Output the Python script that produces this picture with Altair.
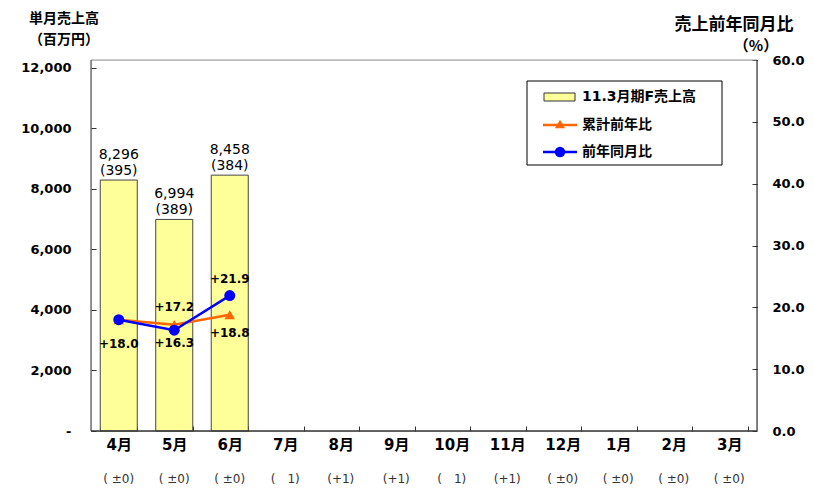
import altair as alt
import pandas as pd

# ---- data ----
months = ["4月", "5月", "6月", "7月", "8月", "9月", "10月", "11月", "12月", "1月", "2月", "3月"]
sales = [8296, 6994, 8458]
store_counts = [395, 389, 384]
cum_yoy = [18.0, 17.2, 18.8]
mon_yoy = [18.0, 16.3, 21.9]
store_change = ["( ±0)", "( ±0)", "( ±0)", "(　1)", "(+1)", "(+1)", "(　1)", "(+1)",
                "( ±0)", "( ±0)", "( ±0)", "( ±0)"]
legend_labels = ["11.3月期F売上高", "累計前年比", "前年同月比"]
left_ticks = [0, 2000, 4000, 6000, 8000, 10000, 12000]
right_ticks = [0, 10, 20, 30, 40, 50, 60]
left_title = ["単月売上高", "（百万円）"]
right_title = ["売上前年同月比", "（%）"]

W, H = 666, 371
FONT = "DejaVu Sans, Noto Sans CJK JP, sans-serif"
JFONT = "Noto Sans CJK JP, DejaVu Sans, sans-serif"
ORANGE = "#FF6600"
BLUE = "#0000FF"
YELLOW = "#FFFF99"

n = len(sales)
df_bar = pd.DataFrame({
    "month": months[:n],
    "sales": sales,
    "label": [f"{s:,}\n({c})" for s, c in zip(sales, store_counts)],
})
df_line = pd.DataFrame({
    "month": months[:n] * 2,
    "series": ["cum"] * n + ["mon"] * n,
    "value": cum_yoy + mon_yoy,
})
df_line["label"] = df_line["value"].map(lambda v: f"+{v:.1f}")
df_sub = pd.DataFrame({"month": months, "sub": store_change})
one = pd.DataFrame({"k": [0]})

xscale = alt.Scale(domain=months, paddingInner=0.333, paddingOuter=0.1667)
xaxis = alt.Axis(title=None, labelFont=FONT, labelFontSize=15, labelFontWeight="bold",
                 labelColor="black", domain=False, ticks=True, tickSize=5, tickColor="#333",
                 tickBand="extent", offset=-5, labelPadding=6, labelAngle=0, grid=False)


def xenc():
    return alt.X("month:N", scale=xscale, axis=xaxis, sort=months)


yleft = alt.Y("sales:Q", scale=alt.Scale(domain=[0, 12264], nice=False, zero=True),
              axis=alt.Axis(orient="left", values=left_ticks, title=None, domain=False,
                            tickSize=5, tickColor="#333", offset=-5, labelPadding=20,
                            labelFont=FONT, labelFontSize=13, labelFontWeight="bold",
                            labelColor="black", grid=False,
                            labelExpr="datum.value == 0 ? '-' : format(datum.value, ',')"))
yright = alt.Y("value:Q", scale=alt.Scale(domain=[0, 60], nice=False, zero=True),
               axis=alt.Axis(orient="right", values=right_ticks, title=None, domain=False,
                             tickSize=5, tickColor="#333", offset=-5, labelPadding=15,
                             format=".1f", labelFont=FONT, labelFontSize=13,
                             labelFontWeight="bold", labelColor="black", grid=False))

bars = alt.Chart(df_bar).mark_bar(color=YELLOW, stroke="#444", strokeWidth=1).encode(
    x=xenc(), y=yleft)
bar_labels = alt.Chart(df_bar).mark_text(
    font=FONT, fontSize=14, color="black", baseline="bottom", dy=-18,
    lineBreak="\n", lineHeight=16).encode(x=xenc(), y=yleft, text="label:N")
left_group = alt.layer(bars, bar_labels)

cum = df_line[df_line.series == "cum"]
mon = df_line[df_line.series == "mon"]
cum_line = alt.Chart(cum).mark_line(color=ORANGE, strokeWidth=2.5).encode(x=xenc(), y=yright)
cum_pts = alt.Chart(cum).mark_point(shape="triangle-up", filled=True, size=110, color=ORANGE,
                                    opacity=1).encode(x=xenc(), y=yright)
mon_line = alt.Chart(mon).mark_line(color=BLUE, strokeWidth=2.5).encode(x=xenc(), y=yright)
mon_pts = alt.Chart(mon).mark_circle(size=120, color=BLUE, opacity=1).encode(x=xenc(), y=yright)


def vlabel(src, mlist, dy):
    return alt.Chart(src).transform_filter(
        alt.FieldOneOfPredicate(field="month", oneOf=mlist)).mark_text(
        font=FONT, fontSize=12, fontWeight="bold", color="black", baseline="middle",
        dy=dy).encode(x=xenc(), y=yright, text="label:N")


line_labels = [
    vlabel(mon, ["4月"], 24),
    vlabel(cum, ["5月"], -18),
    vlabel(mon, ["5月"], 13),
    vlabel(mon, ["6月"], -17),
    vlabel(cum, ["6月"], 18),
]
right_group = alt.layer(cum_line, cum_pts, mon_line, mon_pts, *line_labels)

# ---- decorations: frame, sub labels, titles, legend ----
def rule(color, x, x2, y, y2, w=1):
    return alt.Chart(one).mark_rule(color=color, strokeWidth=w).encode(
        x=alt.value(x), x2=alt.value(x2), y=alt.value(y), y2=alt.value(y2))


frame = [
    rule("#999999", 0, W, 0, 0),
    rule("#333333", 0, 0, 0, H),
    rule("#111111", W, W, 0, H),
    rule("#333333", 0, W, H, H, 1.5),
]

sub = alt.Chart(df_sub).mark_text(font=FONT, fontSize=12, color="#333", baseline="middle").encode(
    x=xenc(), y=alt.value(H + 48), text="sub:N")


def label(txt, x, y, size=16, align="center", font=JFONT, weight="bold"):
    return alt.Chart(one).mark_text(text=txt, font=font, fontSize=size, fontWeight=weight,
                                    color="black", align=align, baseline="middle").encode(
        x=alt.value(x), y=alt.value(y))


titles = [
    label(left_title[0], -27, -41.5, 14),
    label(left_title[1], -27, -20.5, 14),
    label(right_title[0], 643, -35, 17),
    label(right_title[1], 665, -14, 15),
]

legend_box = alt.Chart(one).mark_rect(fill="white", stroke="black", strokeWidth=1).encode(
    x=alt.value(436), x2=alt.value(631), y=alt.value(21), y2=alt.value(105))
sw = alt.Chart(one).mark_rect(fill=YELLOW, stroke="#333", strokeWidth=1).encode(
    x=alt.value(453), x2=alt.value(484), y=alt.value(33), y2=alt.value(41))
leg_cum_line = rule(ORANGE, 452, 486, 65, 65, 2.5)
leg_cum_pt = alt.Chart(one).mark_point(shape="triangle-up", filled=True, size=100, color=ORANGE,
                                       opacity=1).encode(x=alt.value(469), y=alt.value(64))
leg_mon_line = rule(BLUE, 452, 486, 92, 92, 2.5)
leg_mon_pt = alt.Chart(one).mark_circle(size=110, color=BLUE, opacity=1).encode(
    x=alt.value(469), y=alt.value(92))
leg_texts = [label(t, 491, y, 14, align="left", font=FONT) for t, y in
             zip(legend_labels, [37, 65, 92])]

deco = alt.layer(*frame, sub, *titles, legend_box, sw, leg_cum_line, leg_cum_pt,
                 leg_mon_line, leg_mon_pt, *leg_texts)

chart = alt.layer(left_group, right_group, deco).resolve_scale(y="independent").properties(
    width=W, height=H,
    autosize=alt.AutoSizeParams(type="none"),
    padding={"left": 83, "top": 52, "right": 49, "bottom": 57},
).configure_view(stroke=None).configure(background="white")

chart.save("out.html", embed_options={"renderer": "svg", "actions": False})
